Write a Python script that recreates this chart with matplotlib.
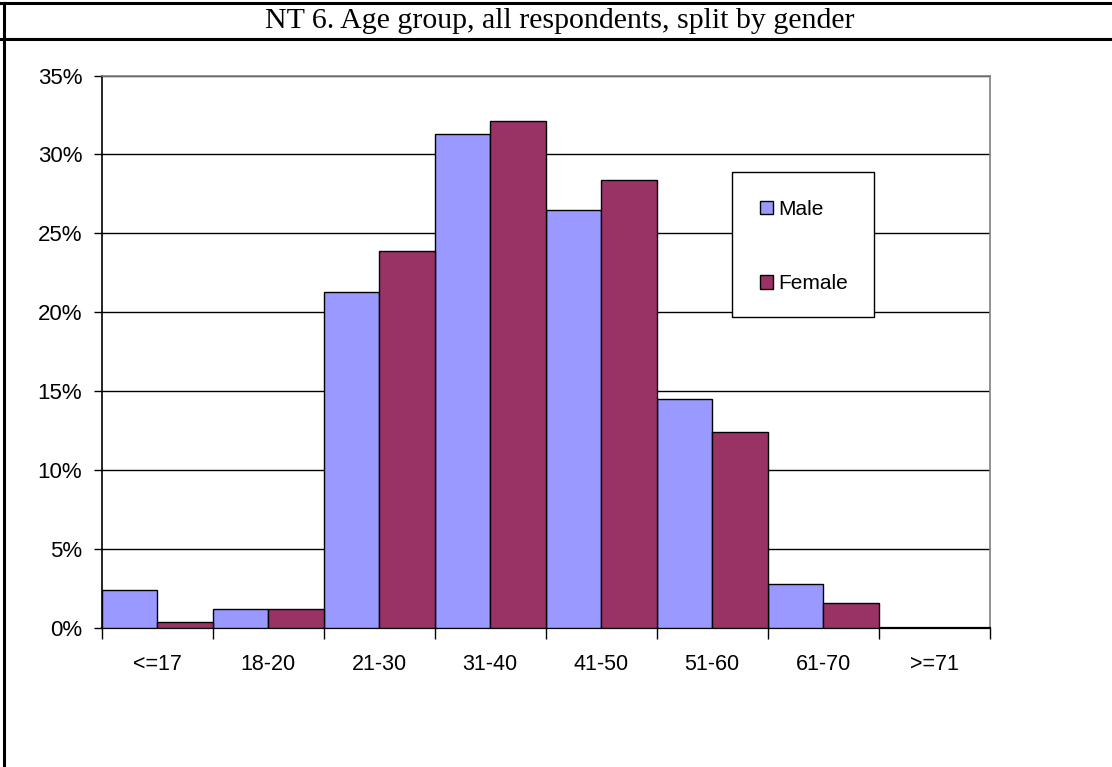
import numpy as np
import matplotlib
matplotlib.use('Agg')
import matplotlib.pyplot as plt
from matplotlib.lines import Line2D
from matplotlib.patches import Rectangle

plt.rcParams['font.family'] = ['Liberation Sans', 'DejaVu Sans']

# Share of respondents (%) per age group
age_groups = ['<=17', '18-20', '21-30', '31-40', '41-50', '51-60', '61-70', '>=71']
male = [2.4, 1.2, 21.3, 31.3, 26.5, 14.5, 2.8, 0.0]
female = [0.4, 1.2, 23.9, 32.1, 28.4, 12.4, 1.6, 0.0]
y_ticks = [0, 5, 10, 15, 20, 25, 30, 35]

W, H = 1112, 767
fig = plt.figure(figsize=(W / 100, H / 100), dpi=100)
fig.patch.set_facecolor('white')

# plot area in pixels: left 102, right 990, top 75.5, bottom 628
ax = fig.add_axes([101.7 / W, (H - 628) / H, 888 / W, 552.5 / H])

x = np.arange(len(age_groups))
bw = 0.5
ax.bar(x - bw / 2, male, width=bw, color='#9999FF', edgecolor='black',
       linewidth=1.0, label='Male', zorder=3)
ax.bar(x + bw / 2, female, width=bw, color='#993366', edgecolor='black',
       linewidth=1.0, label='Female', zorder=3)

ax.set_xlim(-0.5, len(age_groups) - 0.5)
ax.set_ylim(0, 35)

ax.set_yticks(y_ticks)
ax.set_yticklabels(['%d%%' % v for v in y_ticks], fontsize=16)
ax.tick_params(axis='y', length=6, width=1, direction='out', pad=8)

# major ticks at category boundaries, labels on minor ticks at centers
ax.set_xticks(np.arange(len(age_groups) + 1) - 0.5)
ax.set_xticklabels([])
ax.set_xticks(x, minor=True)
ax.set_xticklabels(age_groups, minor=True, fontsize=15.5)
ax.tick_params(axis='x', which='major', length=8, width=1, direction='out')
ax.tick_params(axis='x', which='minor', length=0, pad=19)

ax.grid(axis='y', color='black', linewidth=1.0, zorder=0)
ax.set_axisbelow(True)
for s in ['top', 'right']:
    ax.spines[s].set_color('#808080')
    ax.spines[s].set_linewidth(1.2)
ax.spines['left'].set_linewidth(1.2)
ax.spines['bottom'].set_linewidth(1.6)

# legend box
box = Rectangle((731.7 / W, 1 - 316.7 / H), 142.3 / W, 145 / H,
                transform=fig.transFigure, facecolor='white',
                edgecolor='black', linewidth=1.0, zorder=5)
fig.add_artist(box)
leg = fig.legend(loc='upper left', bbox_to_anchor=(760 / W, 1 - 200 / H),
                 frameon=False, fontsize=15, handlelength=0.62,
                 handleheight=0.62, handletextpad=0.25, labelspacing=2.65,
                 borderpad=0, borderaxespad=0)
leg.set_zorder(6)

# outer frame and title row
lw = 2.2
fig.add_artist(Line2D([0, 1], [1 - 3 / H, 1 - 3 / H], color='black', lw=lw))
fig.add_artist(Line2D([0, 1], [1 - 38.5 / H, 1 - 38.5 / H], color='black', lw=lw))
fig.add_artist(Line2D([3.5 / W, 3.5 / W], [0, 1 - 3 / H], color='black', lw=lw))

fig.text(560 / W, 1 - 21 / H, 'NT 6. Age group, all respondents, split by gender',
         ha='center', va='center', fontsize=21.5,
         family=['Liberation Serif', 'DejaVu Serif'])

fig.savefig('out.png', dpi=100, facecolor='white')
